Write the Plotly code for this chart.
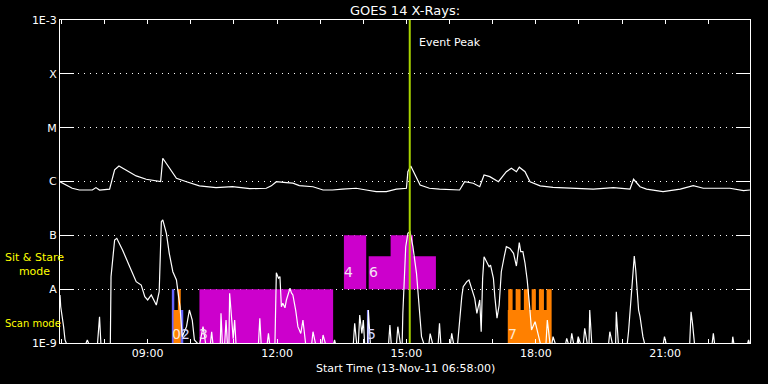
import plotly.graph_objects as go

DAY = "2011-11-13 "
LO = 9e-10  # below-scale samples (clipped at the 1E-9 floor)

# ---- GOES 14 long channel (1-8 A) ----
long_time = ["06:58", "07:15", "07:25", "07:43", "07:48", "07:53", "08:07", "08:14",
             "08:20", "08:30", "08:44", "08:58", "09:16", "09:18", "09:21", "09:30",
             "09:40", "09:54", "10:12", "10:35", "10:58", "11:22", "11:45", "11:52",
             "11:59", "12:13", "12:22", "12:31", "12:50", "13:04", "13:17", "13:31",
             "13:50", "14:04", "14:18", "14:32", "14:46", "15:00", "15:02", "15:06",
             "15:12", "15:19", "15:32", "15:46", "16:14", "16:21", "16:33", "16:42",
             "16:48", "16:56", "17:08", "17:19", "17:26", "17:33", "17:37", "17:45",
             "17:52", "18:06", "18:24", "19:01", "19:20", "19:48", "20:11", "20:16",
             "20:25", "20:34", "20:57", "21:21", "21:39", "21:53", "22:30", "22:49",
             "22:58"]
long_flux = [9.9e-7, 7.5e-7, 6.95e-7, 6.95e-7, 7.7e-7, 6.95e-7, 7.2e-7, 1.64e-6,
             1.94e-6, 1.64e-6, 1.27e-6, 1.10e-6, 1.01e-6, 1.0e-6, 2.70e-6, 1.76e-6,
             1.15e-6, 9.9e-7, 8.3e-7, 7.7e-7, 8.0e-7, 7.35e-7, 7.5e-7, 8.3e-7,
             9.9e-7, 9.5e-7, 9.3e-7, 8.4e-7, 8.0e-7, 6.95e-7, 6.95e-7, 7.2e-7,
             7.5e-7, 6.95e-7, 6.5e-7, 6.5e-7, 7.2e-7, 7.5e-7, 1.52e-6, 1.94e-6,
             1.32e-6, 8.6e-7, 7.5e-7, 7.2e-7, 6.95e-7, 9.9e-7, 9.3e-7, 8.0e-7,
             1.32e-6, 1.23e-6, 9.9e-7, 1.52e-6, 1.76e-6, 1.52e-6, 1.84e-6, 1.52e-6,
             9.9e-7, 8.3e-7, 7.8e-7, 7.5e-7, 7.2e-7, 7.7e-7, 7.2e-7, 1.10e-6,
             8.0e-7, 7.2e-7, 6.5e-7, 7.2e-7, 8.4e-7, 7.5e-7, 7.5e-7, 6.75e-7,
             6.95e-7]

# ---- GOES 14 short channel (0.5-4 A) ----
short_time = ["06:58", "06:59", "07:03", "07:05", "07:08", "07:33", "07:36", "07:39",
              "07:50", "07:53", "07:55", "08:08", "08:09", "08:14", "08:17", "08:25",
              "08:35", "08:44", "08:51", "08:56", "09:00", "09:05", "09:12", "09:16",
              "09:19", "09:21", "09:26", "09:30", "09:35", "09:40", "09:43", "09:45",
              "09:48", "09:54", "09:58", "10:02", "10:05", "10:12", "10:17", "10:21",
              "10:27", "10:29", "10:31", "10:41", "10:42", "10:44", "10:47", "10:49",
              "10:51", "10:53", "10:54", "10:57", "10:59", "11:01", "11:03", "11:34",
              "11:36", "11:38", "11:46", "11:48", "11:50", "11:57", "11:59", "12:02",
              "12:04", "12:06", "12:08", "12:11", "12:13", "12:18", "12:20", "12:22",
              "12:26", "12:29", "12:33", "12:36", "12:40", "12:48", "12:50", "12:54",
              "13:02", "13:04", "13:08", "13:18", "13:20", "13:22", "13:46", "13:48",
              "13:51", "13:53", "13:55", "13:58", "14:00", "14:02", "14:06", "14:07",
              "14:10", "14:35", "14:37", "14:39", "14:46", "14:48", "14:52", "14:54",
              "14:55", "14:59", "15:02", "15:05", "15:09", "15:14", "15:18", "15:21",
              "15:25", "15:31", "15:33", "15:37", "15:44", "15:46", "15:48", "16:01",
              "16:03", "16:06", "16:11", "16:13", "16:17", "16:19", "16:24", "16:27",
              "16:31", "16:35", "16:38", "16:40", "16:42", "16:44", "16:46", "16:48",
              "16:51", "16:55", "16:57", "17:01", "17:03", "17:06", "17:09", "17:12",
              "17:16", "17:19", "17:24", "17:29", "17:33", "17:36", "17:37", "17:39",
              "17:42", "17:45", "17:48", "17:51", "17:54", "17:59", "18:03", "18:07",
              "18:14", "18:16", "18:20", "18:22", "18:24", "18:28", "18:41", "18:43",
              "18:46", "18:48", "18:50", "18:53", "18:57", "18:59", "19:03", "19:06",
              "19:08", "19:12", "19:14", "19:15", "19:18", "19:41", "19:43", "19:47",
              "19:51", "19:52", "19:55", "20:07", "20:09", "20:12", "20:15", "20:17",
              "20:19", "20:23", "20:25", "20:29", "20:32", "20:57", "20:59", "21:02",
              "21:34", "21:36", "21:38", "21:41", "22:05", "22:07", "22:09", "22:33",
              "22:34", "22:36", "22:54", "22:56", "22:58"]
short_flux = [7.8e-9, 4.72e-9, 2.01e-9, 1.14e-9, LO, LO, 1.14e-9, LO,
              LO, 3.08e-9, LO, LO, 1.71e-8, 8.2e-8, 8.8e-8, 5.35e-8,
              2.61e-8, 1.38e-8, 1.19e-8, 7.25e-9, 6.3e-9, 7.8e-9, 5.08e-9, 8.97e-9,
              1.79e-7, 1.93e-7, 1.09e-7, 4.64e-8, 2.11e-8, 1.48e-8, 7.25e-9, 4.72e-9,
              1.31e-9, 2.01e-9, 4.1e-9, 2.67e-9, 1.14e-9, LO, 2.01e-9, LO,
              LO, 1.62e-9, LO, LO, 3.56e-9, LO, LO, 2.67e-9,
              LO, LO, 8.4e-9, 2.4e-9, 1.2e-9, 2.67e-9, LO, LO,
              2.88e-9, LO, LO, 1.51e-9, LO, LO, 2.02e-8, 1.6e-8,
              1.71e-8, 4.72e-9, 5.47e-9, 4.5e-9, 6.3e-9, 1.04e-8, 8.5e-9, 7.8e-9,
              4.0e-9, 2.01e-9, 1.5e-9, 2.67e-9, LO, LO, 1.62e-9, LO,
              LO, 1.41e-9, LO, LO, 1.14e-9, LO, LO, 2.32e-9,
              LO, LO, 3.31e-9, 1.5e-9, 2.67e-9, LO, LO, 4.1e-9,
              LO, LO, 2.16e-9, LO, LO, 2.01e-9, LO, LO,
              3.56e-9, 6.15e-8, 1.09e-7, 1.17e-7, 6.15e-8, 1.97e-8, 4.1e-9, 1.31e-9,
              LO, LO, 1.5e-9, LO, LO, 2.32e-9, LO, LO,
              1.51e-9, LO, LO, 1.88e-9, 7.25e-9, 1.11e-8, 1.38e-8, 1.48e-8,
              1.04e-8, 6.77e-9, 3.56e-9, 4.72e-9, 6.3e-9, 1.62e-9, 1.59e-8, 4.0e-8,
              3.24e-8, 2.61e-8, 2.81e-8, 1.59e-8, 7.25e-9, 2.88e-9, 5.08e-9, 2.11e-8,
              4.0e-8, 6.15e-8, 5.7e-8, 4.64e-8, 2.69e-8, 4.97e-8, 7.3e-8, 4.97e-8,
              4.97e-8, 3.03e-8, 1.48e-8, 5.47e-9, 1.74e-9, 2.49e-9, 1.41e-9, LO,
              LO, 2.67e-9, LO, LO, 1.31e-9, LO, LO, 1.22e-9,
              LO, LO, 1.51e-9, LO, LO, 1.31e-9, LO, LO,
              1.88e-9, LO, LO, 4.1e-9, LO, LO, 1.62e-9, LO,
              LO, 3.81e-9, LO, LO, 1.62e-9, 6.3e-9, 2.27e-8, 4.13e-8,
              2.27e-8, 4.1e-9, 3.08e-9, 1.31e-9, LO, LO, 1.31e-9, LO,
              LO, 3.81e-9, 2.32e-9, LO, LO, 1.51e-9, LO, LO,
              1.31e-9, LO, LO, 1.14e-9, LO]

# ---- observing blocks (time span, flux span, kind) ----
obs_start = ["09:33:36", "09:36:00", "09:42:00", "09:46:00", "10:12:00", "13:33:00",
             "14:05:00", "14:07:30", "14:38:00", "17:21:00",
             "17:21:36", "17:31:54", "17:43:24", "17:54:12", "18:04:18", "18:15:00"]
obs_end = ["09:37:00", "09:46:00", "09:46:00", "09:49:30", "13:18:00", "14:04:00",
           "14:08:00", "15:41:00", "15:09:00", "18:22:00",
           "17:27:42", "17:38:48", "17:50:24", "18:00:06", "18:11:18", "18:22:00"]
obs_low = [1e-9, 1e-9, 1e-9, 1e-9, 1e-9, 1e-8,
           1e-9, 1e-8, 1e-8, 1e-9,
           4.1e-9, 4.1e-9, 4.1e-9, 4.1e-9, 4.1e-9, 4.1e-9]
obs_high = [1e-8, 4.1e-9, 1e-8, 4.1e-9, 1e-8, 1e-7,
            4.1e-9, 4.1e-8, 1e-7, 4.1e-9,
            1e-8, 1e-8, 1e-8, 1e-8, 1e-8, 1e-8]
obs_kind = ["blue", "orange", "orange", "blue", "magenta", "magenta",
            "blue", "magenta", "magenta", "orange",
            "orange", "orange", "orange", "orange", "orange", "orange"]

label_text = ["0", "2", "3", "4", "5", "6", "7"]
label_time = ["09:33:36", "09:46:00", "10:12:00", "13:33:00", "14:05:00", "14:07:30", "17:21:00"]
label_band = ["scan", "scan", "scan", "sit", "scan", "sit", "scan"]
label_kind = ["orange", "blue", "magenta", "magenta", "blue", "magenta", "orange"]

peak_time = "15:04:36"
x_start, x_end = "06:58:00", "22:58:00"

ytick_vals = [1e-9, 1e-8, 1e-7, 1e-6, 1e-5, 1e-4, 1e-3]
ytick_text = ["1E-9", "A", "B", "C", "M", "X", "1E-3"]

FILL = {"blue": "#6464ff", "orange": "#ff8000", "magenta": "#cc00cc"}
LABEL_COL = {"blue": "#d8d8ff", "orange": "#ffe8d0", "magenta": "#f4e0f4"}
BAND_Y = {"sit": 0.22, "scan": 0.028}
FONT = "DejaVu Sans"

fig = go.Figure()

for s, e, lo, hi, k in zip(obs_start, obs_end, obs_low, obs_high, obs_kind):
    fig.add_trace(go.Scatter(
        x=[DAY + s, DAY + e, DAY + e, DAY + s, DAY + s],
        y=[lo, lo, hi, hi, lo],
        mode="lines", fill="toself", fillcolor=FILL[k],
        line=dict(width=0, color=FILL[k]), hoverinfo="skip"))

fig.add_trace(go.Scatter(x=[DAY + t for t in long_time], y=long_flux, mode="lines",
                         line=dict(color="white", width=1.2), hoverinfo="skip"))
fig.add_trace(go.Scatter(x=[DAY + t for t in short_time], y=short_flux, mode="lines",
                         line=dict(color="white", width=1.2), hoverinfo="skip"))
fig.add_trace(go.Scatter(x=[DAY + peak_time, DAY + peak_time], y=[1e-9, 1e-3], mode="lines",
                         line=dict(color="#a8d400", width=2), hoverinfo="skip"))

annotations = [
    dict(text="Sit & Stare<br>mode", x=-0.037, y=0.2415, xref="paper", yref="paper",
         xanchor="center", yanchor="middle", showarrow=False, align="center",
         font=dict(color="#ffff00", size=11, family=FONT)),
    dict(text="Scan mode", x=-0.0825, y=0.0619, xref="paper", yref="paper",
         xanchor="left", yanchor="middle", showarrow=False,
         font=dict(color="#ffff00", size=10, family=FONT)),
    dict(text="Start Time (13-Nov-11 06:58:00)", x=0.5, y=-0.0774, xref="paper", yref="paper",
         xanchor="center", yanchor="middle", showarrow=False,
         font=dict(color="white", size=11, family=FONT)),
    dict(text="Event Peak", x=DAY + peak_time, y=0.929, xref="x", yref="paper",
         xanchor="left", yanchor="middle", xshift=7, showarrow=False,
         font=dict(color="white", size=11, family=FONT)),
]
for txt, t, b, k in zip(label_text, label_time, label_band, label_kind):
    annotations.append(dict(text=txt, x=DAY + t, y=BAND_Y[b], xref="x", yref="paper",
                            xanchor="left", yanchor="middle", showarrow=False, xshift=-2,
                            font=dict(color=LABEL_COL[k], size=14, family=FONT)))

fig.update_layout(
    width=768, height=384,
    margin=dict(l=60, r=18, t=20, b=41),
    paper_bgcolor="black", plot_bgcolor="black",
    font=dict(family=FONT, color="white", size=11),
    showlegend=False,
    title=dict(text="GOES 14 X-Rays:", x=0.5, xref="paper", xanchor="center",
               y=1 - 10 / 384, yref="container", yanchor="middle",
               font=dict(size=13, family=FONT, color="white")),
    annotations=annotations,
)
fig.update_xaxes(
    type="date", range=[DAY + x_start, DAY + x_end],
    tickformat="%H:%M", dtick=3 * 3600000, tick0=DAY + "00:00",
    ticks="inside", ticklen=4, tickcolor="white", tickwidth=1,
    showline=True, linecolor="white", linewidth=1, mirror="ticks",
    showgrid=False, zeroline=False,
    minor=dict(dtick=3600000, ticks="inside", ticklen=4, tickcolor="white", showgrid=False),
    tickfont=dict(size=11, family=FONT, color="white"),
)
fig.update_yaxes(
    type="log", range=[-9, -3],
    tickmode="array", tickvals=ytick_vals, ticktext=ytick_text,
    ticks="inside", ticklen=14, tickcolor="white", tickwidth=1,
    showline=True, linecolor="white", linewidth=1, mirror="ticks",
    showgrid=True, gridcolor="white", gridwidth=1, griddash="1px,5px",
    zeroline=False,
    tickfont=dict(size=11, family=FONT, color="white"),
)

fig.write_html("out.html", config={"displayModeBar": False},
               post_script="document.body.style.margin='0';")
